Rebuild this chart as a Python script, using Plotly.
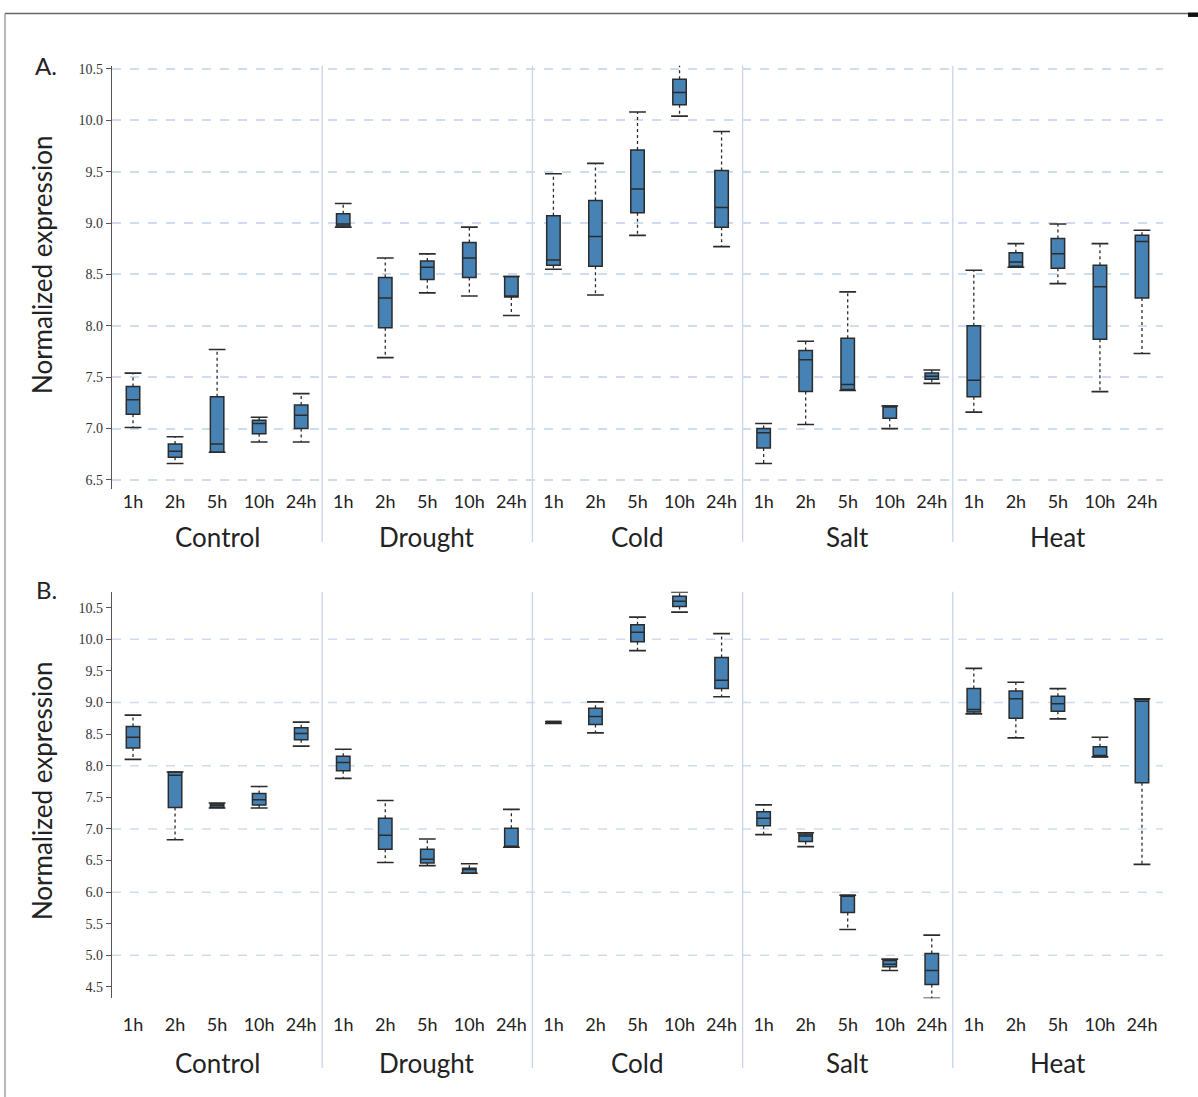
import plotly.graph_objects as go

W, H = 1198, 1097

groups = ["Control", "Drought", "Cold", "Salt", "Heat"]
times = ["1h", "2h", "5h", "10h", "24h"]
cats = [f"{g} {t}" for g in groups for t in times]
tick_text = times * len(groups)

# Panel A (lower whisker, Q1, median, Q3, upper whisker)
a_lo = [7.01, 6.66, 6.77, 6.87, 6.87,
        8.96, 7.69, 8.32, 8.29, 8.10,
        8.55, 8.30, 8.88, 10.04, 8.77,
        6.66, 7.04, 7.37, 7.00, 7.44,
        7.16, 8.57, 8.41, 7.36, 7.73]
a_q1 = [7.14, 6.72, 6.77, 6.95, 7.00,
        8.97, 7.98, 8.45, 8.47, 8.28,
        8.59, 8.58, 9.10, 10.15, 8.96,
        6.81, 7.36, 7.38, 7.10, 7.48,
        7.31, 8.58, 8.56, 7.87, 8.27]
a_med = [7.28, 6.78, 6.85, 7.05, 7.13,
         8.99, 8.27, 8.57, 8.66, 8.29,
         8.64, 8.87, 9.33, 10.27, 9.15,
         6.96, 7.67, 7.43, 7.21, 7.51,
         7.47, 8.62, 8.70, 8.38, 8.82]
a_q3 = [7.41, 6.85, 7.31, 7.08, 7.23,
        9.09, 8.47, 8.63, 8.81, 8.48,
        9.07, 9.22, 9.71, 10.40, 9.51,
        7.00, 7.76, 7.88, 7.22, 7.54,
        8.00, 8.71, 8.85, 8.59, 8.88]
a_hi = [7.54, 6.92, 7.77, 7.11, 7.34,
        9.19, 8.66, 8.70, 8.96, 8.48,
        9.48, 9.58, 10.08, 10.54, 9.89,
        7.05, 7.85, 8.33, 7.22, 7.57,
        8.54, 8.80, 8.99, 8.80, 8.93]

# Panel B
b_lo = [8.10, 6.83, 7.33, 7.33, 8.31,
        7.80, 6.47, 6.42, 6.30, 6.71,
        8.67, 8.52, 9.82, 10.43, 9.09,
        6.91, 6.72, 5.41, 4.76, 4.32,
        8.82, 8.44, 8.74, 8.14, 6.44]
b_q1 = [8.28, 7.34, 7.34, 7.38, 8.41,
        7.92, 6.68, 6.46, 6.30, 6.71,
        8.67, 8.65, 9.96, 10.52, 9.22,
        7.05, 6.80, 5.68, 4.82, 4.54,
        8.85, 8.75, 8.86, 8.14, 7.73]
b_med = [8.45, 7.85, 7.37, 7.46, 8.51,
         8.05, 6.90, 6.52, 6.36, 6.72,
         8.69, 8.78, 10.11, 10.60, 9.35,
         7.17, 6.89, 5.95, 4.86, 4.76,
         8.89, 9.06, 8.98, 8.16, 9.02]
b_q3 = [8.62, 7.90, 7.40, 7.56, 8.60,
        8.15, 7.17, 6.68, 6.38, 7.01,
        8.70, 8.91, 10.23, 10.68, 9.71,
        7.27, 6.92, 5.95, 4.92, 5.03,
        9.22, 9.18, 9.10, 8.30, 9.05]
b_hi = [8.80, 7.90, 7.41, 7.67, 8.69,
        8.26, 7.45, 6.84, 6.45, 7.31,
        8.70, 9.01, 10.35, 10.75, 10.09,
        7.38, 6.94, 5.95, 4.94, 5.32,
        9.54, 9.32, 9.22, 8.45, 9.06]

y_title = "Normalized expression"
panel_labels = ["A.", "B."]

BOX_FILL = "#4682b4"
EDGE = "#2b2b2b"
GRID = "#cfdcf0"
SEP = "#c7d4ec"

fig = go.Figure()


def add_panel(xa, ya, lo, q1, med, q3, hi):
    wx, wy = [], []
    for c, l, a, b, h in zip(cats, lo, q1, q3, hi):
        wx += [c, c, None, c, c, None]
        wy += [b, h, None, a, l, None]
    fig.add_trace(go.Scatter(x=wx, y=wy, mode="lines", xaxis=xa, yaxis=ya,
                             line=dict(color=EDGE, width=1.3, dash="dot"),
                             hoverinfo="skip", showlegend=False))
    fig.add_trace(go.Scatter(x=cats + cats, y=list(hi) + list(lo), mode="markers",
                             xaxis=xa, yaxis=ya,
                             marker=dict(symbol="line-ew", size=12,
                                         line=dict(color=EDGE, width=1.6)),
                             hoverinfo="skip", showlegend=False))
    fig.add_trace(go.Box(x=cats, q1=q1, median=med, q3=q3,
                         lowerfence=q1, upperfence=q3, xaxis=xa, yaxis=ya,
                         fillcolor=BOX_FILL, line=dict(color=EDGE, width=1.5),
                         width=0.32, whiskerwidth=0, hoverinfo="skip",
                         showlegend=False))


add_panel("x", "y", a_lo, a_q1, a_med, a_q3, a_hi)
add_panel("x2", "y2", b_lo, b_q1, b_med, b_q3, b_hi)

# panel geometry (pixels)
x_left, x_right = 112, 1163
A_top, A_bot = 62, 487
B_top, B_bot = 590, 998


def py(p):
    return 1 - p / H


xdom = [x_left / W, x_right / W]
xaxis_common = dict(type="category", categoryorder="array", categoryarray=cats,
                    tickmode="array", tickvals=cats, ticktext=tick_text,
                    range=[-0.5, len(cats) - 0.5], showgrid=False, zeroline=False,
                    showline=False, ticks="", domain=xdom,
                    tickfont=dict(family="Lato", size=18, color="#222"))
yaxis_common = dict(showline=True, linecolor="#555", linewidth=1.2, ticks="outside",
                    ticklen=5, tickcolor="#555", tickformat=".1f", zeroline=False,
                    tickfont=dict(family="Liberation Serif", size=14, color="#333"))

fig.update_layout(
    width=W, height=H, margin=dict(l=0, r=0, t=0, b=0),
    paper_bgcolor="white", plot_bgcolor="white",
    xaxis=dict(anchor="y", **xaxis_common),
    xaxis2=dict(anchor="y2", ticklabelstandoff=14, **xaxis_common),
    yaxis=dict(anchor="x", domain=[py(A_bot), py(A_top)], range=[6.41, 10.53],
               tick0=6.5, dtick=0.5, showgrid=True, gridcolor=GRID, gridwidth=1.5,
               griddash="dash", **yaxis_common),
    yaxis2=dict(anchor="x2", domain=[py(B_bot), py(B_top)], range=[4.32, 10.75],
                tick0=4.5, dtick=0.5, showgrid=False, **yaxis_common),
)

shapes = []
# panel B dashed grid every 1.0
for v in range(5, 11):
    shapes.append(dict(type="line", xref="x2 domain", yref="y2", x0=0, x1=1, y0=v, y1=v,
                       line=dict(color=GRID, width=1.5, dash="dash"), layer="below"))
# group separators
for k in range(1, len(groups)):
    xs = k * len(times) - 0.5
    shapes.append(dict(type="line", xref="x", yref="paper", x0=xs, x1=xs,
                       y0=py(540), y1=py(A_top), line=dict(color=SEP, width=1.3),
                       layer="below"))
    shapes.append(dict(type="line", xref="x2", yref="paper", x0=xs, x1=xs,
                       y0=py(1068), y1=py(B_top), line=dict(color=SEP, width=1.3),
                       layer="below"))
# frame
shapes.append(dict(type="line", xref="paper", yref="paper", x0=5 / W, x1=1188 / W,
                   y0=py(9.5), y1=py(9.5), line=dict(color="#666", width=1.5)))
shapes.append(dict(type="line", xref="paper", yref="paper", x0=5 / W, x1=5 / W,
                   y0=0, y1=py(9.5), line=dict(color="#888", width=1.2)))
shapes.append(dict(type="rect", xref="paper", yref="paper", x0=1188 / W, x1=1198 / W,
                   y0=py(13), y1=py(8.5), fillcolor="#111", line=dict(width=0)))
fig.update_layout(shapes=shapes)

ann = []
for i, g in enumerate(groups):
    mid = cats[i * len(times) + 2]
    ann.append(dict(x=mid, y=py(535), xref="x", yref="paper", text=g, showarrow=False,
                    font=dict(family="Lato", size=26, color="#222"),
                    xanchor="center", yanchor="middle"))
    ann.append(dict(x=mid, y=py(1063), xref="x2", yref="paper", text=g, showarrow=False,
                    font=dict(family="Lato", size=26, color="#222"),
                    xanchor="center", yanchor="middle"))
for lab, yc in zip(panel_labels, [62, 588]):
    ann.append(dict(x=46 / W, y=py(yc), xref="paper", yref="paper", text=lab,
                    showarrow=False, font=dict(family="Lato", size=24, color="#222"),
                    xanchor="center", yanchor="middle"))
for yc in [262, 790]:
    ann.append(dict(x=42 / W, y=py(yc), xref="paper", yref="paper", text=y_title,
                    textangle=-90, showarrow=False,
                    font=dict(family="Lato", size=26, color="#222"),
                    xanchor="center", yanchor="middle"))
fig.update_layout(annotations=ann)

fig.write_html("out.html", config={"displayModeBar": False},
               post_script="document.body.style.margin='0';document.body.style.overflow='hidden';")
